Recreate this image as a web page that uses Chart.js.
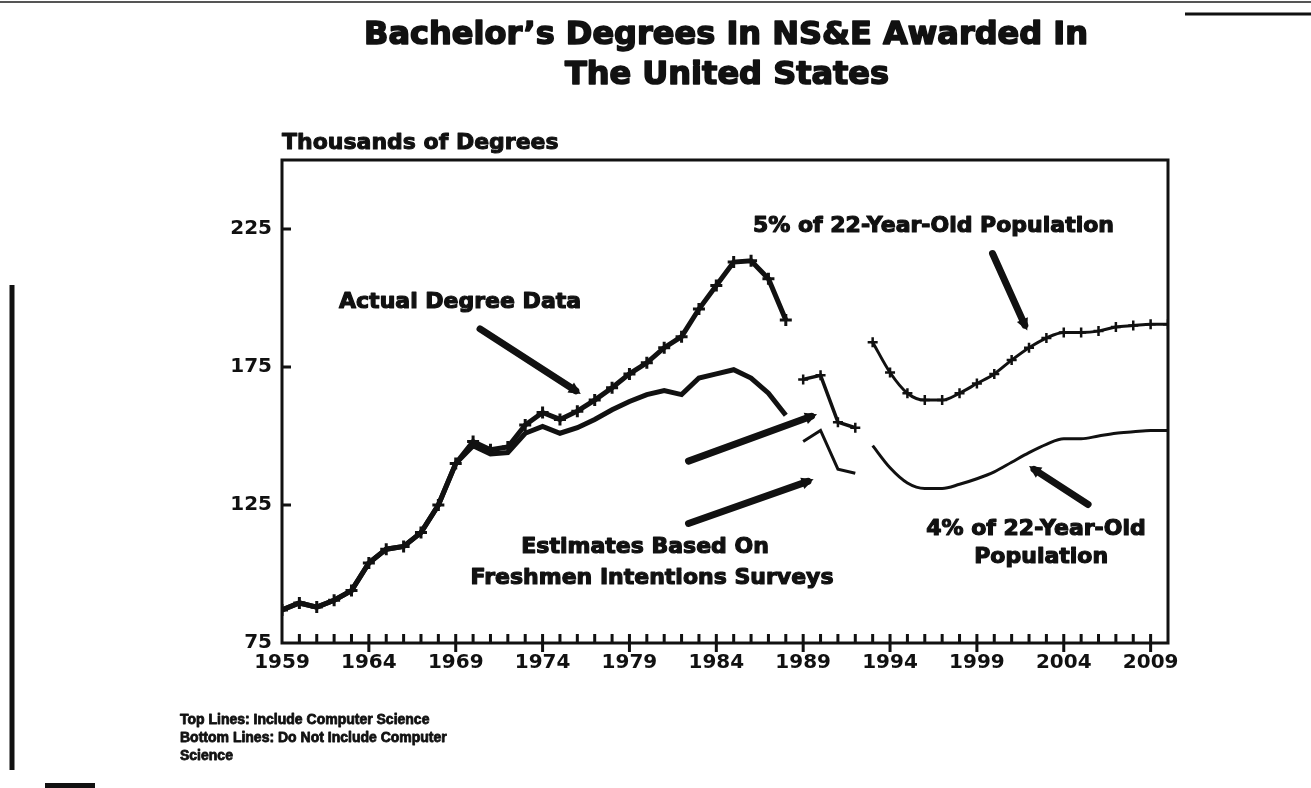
<!DOCTYPE html>
<html>
<head>
<meta charset="utf-8">
<title>Bachelor's Degrees In NS&E</title>
<script src="https://cdn.jsdelivr.net/npm/chart.js@4.4.1/dist/chart.umd.min.js"></script>
<style>
  html, body { margin: 0; padding: 0; background: #fff; }
  canvas { display: block; }
</style>
</head>
<body>
<canvas id="degChart" width="1311" height="788"></canvas>
<script>
// ---------------------------------------------------------------------------
// data (thousands of degrees)
// ---------------------------------------------------------------------------
const actualYears = [1959, 1960, 1961, 1962, 1963, 1964, 1965, 1966, 1967, 1968,
  1969, 1970, 1971, 1972, 1973, 1974, 1975, 1976, 1977, 1978,
  1979, 1980, 1981, 1982, 1983, 1984, 1985, 1986, 1987, 1988];
const actualWithCS = [87, 89.5, 88, 90.5, 94, 104, 109, 110, 115, 125,
  140, 148, 145, 146, 154, 158.5, 156, 159, 163, 167.5,
  172.5, 176.5, 182, 186, 196, 204.5, 213, 213.5, 207, 192];
const actualNoCS = [87, 89.5, 88, 90.5, 94, 104, 109, 110, 115, 125,
  140, 146.5, 143.5, 144, 151, 153.5, 151, 153, 156, 159.5,
  162.5, 165, 166.5, 165, 171, 172.5, 174, 171, 165.5, 157.5];

const estYears = [1989, 1990, 1991, 1992];
const estWithCS = [170.5, 172, 155, 153];
const estNoCS = [148, 152, 138, 136.5];

const projYears = [1993, 1994, 1995, 1996, 1997, 1998, 1999, 2000, 2001,
  2002, 2003, 2004, 2005, 2006, 2007, 2008, 2009, 2010];
const proj5pct = [184, 173, 165.5, 163, 163, 165.5, 169, 172.5, 177.5,
  182, 185.5, 187.5, 187.5, 188, 189.5, 190, 190.5, 190.5];
const proj4pct = [146.5, 138.5, 133, 131, 131, 132.5, 134.5, 137, 140.5,
  144, 147, 149, 149, 150, 151, 151.5, 152, 152];

const xTicks = [1959, 1964, 1969, 1974, 1979, 1984, 1989, 1994, 1999, 2004, 2009];
const yTicks = [75, 125, 175, 225];

// annotation text + arrows, in data units
const notes = [
  { text: "Actual Degree Data", x: 1969.25, y: 198.6 },
  { text: "5% of 22-Year-Old Population", x: 1996.5, y: 225.9 },
  { text: "Estimates Based On", x: 1979.9, y: 109.5 },
  { text: "Freshmen Intentions Surveys", x: 1980.3, y: 98.6 },
  { text: "4% of 22-Year-Old", x: 2002.4, y: 116.1 },
  { text: "Population", x: 2002.7, y: 105.9 },
];
const arrows = [
  [[1970.4, 188.8], [1976.2, 165.2]],
  [[1999.9, 216.1], [2001.9, 188.2]],
  [[1982.4, 140.9], [1989.8, 157.9]],
  [[1982.4, 118.3], [1989.6, 134.3]],
  [[2005.4, 125.2], [2002.0, 139.1]],
];

const FONT = "'DejaVu Sans', 'Liberation Sans', sans-serif";
const INK = "#111";

function pts(xs, ys) {
  return xs.map((x, i) => ({ x: x, y: ys[i] }));
}

// heavy text: fill plus a thin stroke, like the photocopied original
function heavyText(c, txt, x, y, w) {
  c.save();
  c.lineWidth = w;
  c.lineJoin = "round";
  c.strokeText(txt, x, y);
  c.fillText(txt, x, y);
  c.restore();
}

// ---------------------------------------------------------------------------
// axis box + tick marks (own hook)
// ---------------------------------------------------------------------------
const frameTicks = {
  id: "frameTicks",
  afterDatasetsDraw(chart) {
    const c = chart.ctx;
    const a = chart.chartArea;
    const sx = chart.scales.x;
    const sy = chart.scales.y;
    c.save();
    c.strokeStyle = INK;
    c.lineCap = "butt";
    c.lineWidth = 3;
    c.strokeRect(a.left, a.top, a.right - a.left, a.bottom - a.top);

    // one tick a year, the fifth years also reach below the axis
    c.lineWidth = 3;
    c.beginPath();
    for (let yr = 1960; yr <= 2009; yr++) {
      const px = sx.getPixelForValue(yr);
      const down = xTicks.indexOf(yr) >= 0 ? 9 : 1;
      c.moveTo(px, a.bottom - 9);
      c.lineTo(px, a.bottom + down);
    }
    yTicks.forEach((v) => {
      if (v === yTicks[0]) return;
      const py = sy.getPixelForValue(v);
      c.moveTo(a.left, py);
      c.lineTo(a.left + 9, py);
    });
    c.stroke();
    c.restore();
  },
};

// ---------------------------------------------------------------------------
// arrows, labels, titles, scan edges
// ---------------------------------------------------------------------------
const paperPlugin = {
  id: "paper",
  afterDraw(chart) {
    const c = chart.ctx;
    const a = chart.chartArea;
    const sx = chart.scales.x;
    const sy = chart.scales.y;
    c.save();
    c.strokeStyle = INK;
    c.fillStyle = INK;

    // arrows
    c.lineCap = "round";
    arrows.forEach(([p0, p1]) => {
      const x0 = sx.getPixelForValue(p0[0]), y0 = sy.getPixelForValue(p0[1]);
      const x1 = sx.getPixelForValue(p1[0]), y1 = sy.getPixelForValue(p1[1]);
      const ang = Math.atan2(y1 - y0, x1 - x0);
      c.lineWidth = 7;
      c.beginPath();
      c.moveTo(x0, y0);
      c.lineTo(x1 - 6 * Math.cos(ang), y1 - 6 * Math.sin(ang));
      c.stroke();
      c.beginPath();
      c.moveTo(x1, y1);
      c.lineTo(x1 - 12 * Math.cos(ang) + 6 * Math.sin(ang), y1 - 12 * Math.sin(ang) - 6 * Math.cos(ang));
      c.lineTo(x1 - 12 * Math.cos(ang) - 6 * Math.sin(ang), y1 - 12 * Math.sin(ang) + 6 * Math.cos(ang));
      c.closePath();
      c.fill();
    });

    // annotation labels
    c.textAlign = "center";
    c.textBaseline = "middle";
    c.font = "bold 22px " + FONT;
    notes.forEach((n) => {
      heavyText(c, n.text, sx.getPixelForValue(n.x), sy.getPixelForValue(n.y), 1.2);
    });

    // titles
    c.font = "bold 32px " + FONT;
    heavyText(c, "Bachelor\u2019s Degrees In NS&E Awarded In", 726, 36, 1.6);
    heavyText(c, "The United States", 727, 76, 1.6);

    c.textAlign = "left";
    c.font = "bold 22px " + FONT;
    heavyText(c, "Thousands of Degrees", a.left, 143, 1);

    c.font = "bold 14px 'Liberation Sans', Arial, sans-serif";
    heavyText(c, "Top Lines: Include Computer Science", 180, 720, 0.8);
    heavyText(c, "Bottom Lines: Do Not Include Computer", 180, 738, 0.8);
    heavyText(c, "Science", 180, 756, 0.8);

    // scan edges
    c.lineCap = "butt";
    c.lineWidth = 5;
    c.beginPath();
    c.moveTo(12, 285);
    c.lineTo(12, 770);
    c.stroke();
    c.lineWidth = 2;
    c.strokeStyle = "#555";
    c.beginPath();
    c.moveTo(0, 2);
    c.lineTo(1311, 2);
    c.stroke();
    c.strokeStyle = INK;
    c.lineWidth = 3;
    c.beginPath();
    c.moveTo(1185, 14);
    c.lineTo(1311, 14);
    c.stroke();
    c.fillRect(45, 783, 50, 5);
    c.restore();
  },
};

// ---------------------------------------------------------------------------
// chart
// ---------------------------------------------------------------------------
document.addEventListener("DOMContentLoaded", () => {
  const ctx = document.getElementById("degChart").getContext("2d");

  const base = {
    borderColor: INK,
    backgroundColor: INK,
    fill: false,
    pointStyle: "cross",
    pointBorderColor: INK,
  };

  new Chart(ctx, {
    type: "line",
    data: {
      datasets: [
        Object.assign({}, base, {
          label: "Actual, excl. computer science",
          data: pts(actualYears, actualNoCS),
          borderWidth: 5,
          pointRadius: 0,
          tension: 0,
        }),
        Object.assign({}, base, {
          label: "Actual, incl. computer science",
          data: pts(actualYears, actualWithCS),
          borderWidth: 5,
          pointRadius: 6,
          pointBorderWidth: 3,
          tension: 0,
        }),
        Object.assign({}, base, {
          label: "Estimate, incl. computer science",
          data: pts(estYears, estWithCS),
          borderWidth: 3.5,
          pointRadius: 5,
          pointBorderWidth: 2.5,
          tension: 0,
        }),
        Object.assign({}, base, {
          label: "Estimate, excl. computer science",
          data: pts(estYears, estNoCS),
          borderWidth: 3,
          pointRadius: 0,
          tension: 0,
        }),
        Object.assign({}, base, {
          label: "5% of 22-year-olds",
          data: pts(projYears, proj5pct),
          borderWidth: 3,
          pointRadius: 5,
          pointBorderWidth: 2.5,
          cubicInterpolationMode: "monotone",
        }),
        Object.assign({}, base, {
          label: "4% of 22-year-olds",
          data: pts(projYears, proj4pct),
          borderWidth: 3,
          pointRadius: 0,
          cubicInterpolationMode: "monotone",
        }),
      ],
    },
    options: {
      responsive: false,
      animation: false,
      layout: { padding: { left: 0, top: 160, right: 143, bottom: 0 } },
      plugins: {
        legend: { display: false },
        tooltip: { enabled: false },
      },
      scales: {
        x: {
          type: "linear",
          min: 1959,
          max: 2010,
          grid: { display: false, drawTicks: false },
          border: { display: false },
          afterBuildTicks: (s) => {
            s.ticks = xTicks.map((v) => ({ value: v }));
          },
          afterFit: (s) => {
            s.height = 145;
          },
          ticks: {
            autoSkip: false,
            maxRotation: 0,
            padding: 8,
            color: INK,
            font: { family: FONT, size: 20, weight: "bold" },
            callback: (v) => String(v),
          },
        },
        y: {
          min: 75,
          max: 250,
          grid: { display: false, drawTicks: false },
          border: { display: false },
          afterBuildTicks: (s) => {
            s.ticks = yTicks.map((v) => ({ value: v }));
          },
          afterFit: (s) => {
            s.width = 282;
          },
          ticks: {
            padding: 10,
            color: INK,
            font: { family: FONT, size: 20, weight: "bold" },
          },
        },
      },
    },
    plugins: [frameTicks, paperPlugin],
  });
});
</script>
</body>
</html>
